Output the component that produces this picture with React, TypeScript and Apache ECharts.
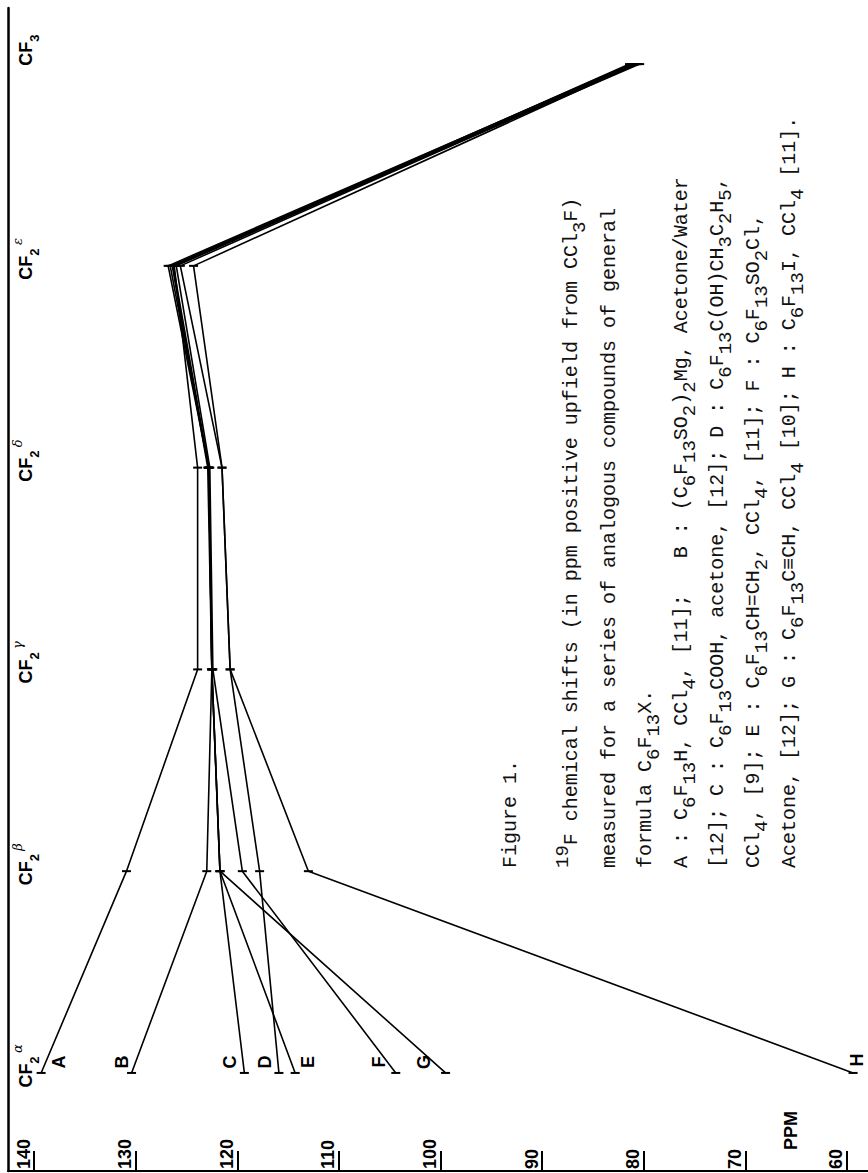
import React, { useEffect, useRef } from 'react';
import * as echarts from 'echarts';

// ---- data (ppm, positive upfield from CCl3F) ----
const categories = ['CF2 α', 'CF2 β', 'CF2 γ', 'CF2 δ', 'CF2 ε', 'CF3'];
const ppmTicks = [140, 130, 120, 110, 100, 90, 80, 70, 60];
const compoundNames = ['A', 'B', 'C', 'D', 'E', 'F', 'G', 'H'];

const valuesA = [139.3, 130.9, 123.9, 123.9, 126.2, 81.0];
const valuesB = [130.4, 123.0, 122.5, 122.8, 126.6, 80.6];
const valuesC = [119.3, 121.7, 122.5, 122.8, 126.8, 81.2];
const valuesD = [115.9, 117.8, 120.7, 121.5, 125.6, 80.8];
const valuesE = [114.3, 121.7, 122.5, 122.9, 126.4, 80.4];
const valuesF = [104.4, 119.5, 122.4, 122.7, 126.0, 80.9];
const valuesG = [99.5, 121.7, 122.5, 122.8, 126.3, 81.4];
const valuesH = [59.4, 113.0, 120.7, 121.5, 124.3, 80.7];
const allValues = [valuesA, valuesB, valuesC, valuesD, valuesE, valuesF, valuesG, valuesH];

// ---- layout / style (not data) ----
const W = 868;
const H = 1173;
const SANS = "'Liberation Sans', Arial, Helvetica, sans-serif";
const MONO = "'Liberation Mono', 'Courier New', monospace";

// screen offsets of the compound letters from their alpha point [dx, dy]
const letterScreenOffsets: number[][] = [
  [18, -11], [-9.5, -11], [-14.5, -11], [-13.5, -11],
  [13, -11], [-16.5, -11], [-21.5, -11], [4, -13],
];

const categoryRich = (idx: number) => {
  const name = categories[idx];
  if (name === 'CF3') return '{gap3| }{b|CF}{s|3}';
  const greek = name.split(' ')[1];
  return `{gap| }{b|CF}{s|2} {g|${greek}}`;
};

const captionLines: { x: number; text: string }[] = [
  { x: 510, text: 'Figure 1.' },
  { x: 571, text: '{sup|19}F chemical shifts (in ppm positive upfield from CCl{sub|3}F)' },
  { x: 609, text: 'measured for a series of analogous compounds of general' },
  { x: 645, text: 'formula C{sub|6}F{sub|13}X.' },
  { x: 681, text: 'A : C{sub|6}F{sub|13}H, CCl{sub|4}, [11];   B : (C{sub|6}F{sub|13}SO{sub|2}){sub|2}Mg, Acetone/Water' },
  { x: 717, text: '[12]; C : C{sub|6}F{sub|13}COOH, acetone, [12]; D : C{sub|6}F{sub|13}C(OH)CH{sub|3}C{sub|2}H{sub|5},' },
  { x: 753, text: 'CCl{sub|4}, [9]; E : C{sub|6}F{sub|13}CH=CH{sub|2}, CCl{sub|4}, [11]; F : C{sub|6}F{sub|13}SO{sub|2}Cl,' },
  { x: 789, text: 'Acetone, [12]; G : C{sub|6}F{sub|13}C\u2261CH, CCl{sub|4} [10]; H : C{sub|6}F{sub|13}I, CCl{sub|4} [11].' },
];

function buildOption() {
  const series = compoundNames.map((name, i) => {
    const [sx, sy] = letterScreenOffsets[i];
    const data = allValues[i].map((v, j) => {
      if (j === 0) {
        return {
          value: [v, j],
          label: {
            show: true,
            formatter: name,
            rotate: 90,
            position: 'inside',
            offset: [-sy, sx],
            fontSize: 18,
            fontWeight: 'bold',
            fontFamily: SANS,
            color: '#000',
          },
        };
      }
      return [v, j];
    });
    return {
      type: 'line',
      name,
      data,
      symbol: 'rect',
      symbolSize: [9, 2],
      showSymbol: true,
      showAllSymbol: true,
      lineStyle: { color: '#000', width: 1.6 },
      itemStyle: { color: '#000' },
      label: { show: false },
      silent: true,
      animation: false,
    };
  });

  return {
    animation: false,
    backgroundColor: '#fff',
    grid: { left: 8, right: 0, top: 8, bottom: 2, containLabel: false, outerBoundsMode: 'none' },
    xAxis: {
      type: 'value',
      inverse: true,
      min: 57.93,
      max: 142.56,
      axisLine: { show: true, onZero: false, lineStyle: { color: '#000', width: 2 } },
      axisTick: {
        show: true,
        inside: true,
        length: 20,
        customValues: ppmTicks,
        lineStyle: { color: '#000', width: 2 },
      },
      axisLabel: {
        show: true,
        inside: true,
        rotate: 90,
        customValues: ppmTicks,
        margin: 2,
        fontSize: 18,
        fontWeight: 'bold',
        fontFamily: SANS,
        color: '#000',
        verticalAlign: 'bottom',
        lineHeight: 21,
      },
      splitLine: { show: false },
    },
    yAxis: {
      type: 'value',
      min: -0.486,
      max: 5.278,
      axisLine: { show: true, onZero: false, lineStyle: { color: '#000', width: 2.5 } },
      axisTick: { show: false },
      splitLine: { show: false },
      axisLabel: {
        show: true,
        inside: true,
        rotate: 90,
        customValues: [0, 1, 2, 3, 4, 5],
        margin: 3,
        formatter: (v: number) => categoryRich(Math.round(v)),
        rich: {
          gap: { width: 14, fontSize: 13 },
          gap3: { width: 28, fontSize: 13 },
          b: { fontSize: 18, fontWeight: 'bold', fontFamily: SANS, color: '#000', lineHeight: 30, verticalAlign: 'middle' },
          s: { fontSize: 13, fontWeight: 'bold', fontFamily: SANS, color: '#000', lineHeight: 18, verticalAlign: 'bottom' },
          g: { fontSize: 13, fontWeight: 'normal', fontFamily: "'DejaVu Serif', serif", fontStyle: 'italic', color: '#000', lineHeight: 18, verticalAlign: 'top' },
        },
      },
    },
    graphic: [
      ...captionLines.map((ln) => ({
        type: 'text',
        x: ln.x,
        y: 868,
        rotation: Math.PI / 2,
        silent: true,
        style: {
          text: ln.text,
          fontFamily: MONO,
          fontSize: 20,
          lineHeight: 36,
          fill: '#111',
          textAlign: 'left',
          textVerticalAlign: 'middle',
          rich: {
            sub: { fontSize: 19, fontFamily: MONO, fill: '#111', lineHeight: 18, verticalAlign: 'bottom' },
            sup: { fontSize: 19, fontFamily: MONO, fill: '#111', lineHeight: 18, verticalAlign: 'top' },
          },
        },
      })),
      {
        type: 'text',
        x: 791,
        y: 1150,
        rotation: Math.PI / 2,
        silent: true,
        style: {
          text: 'PPM',
          fontFamily: SANS,
          fontSize: 18,
          fontWeight: 'bold',
          fill: '#000',
          textAlign: 'left',
          textVerticalAlign: 'middle',
        },
      },
    ],
    series,
  };
}

export default function App() {
  const ref = useRef<HTMLDivElement>(null);
  useEffect(() => {
    if (!ref.current) return;
    const chart = echarts.init(ref.current, null, { renderer: 'svg' });
    chart.setOption(buildOption() as any);
    return () => {
      chart.dispose();
    };
  }, []);
  return (
    <div
      ref={ref}
      style={{ position: 'absolute', left: 0, top: 0, width: W, height: H, background: '#fff' }}
    />
  );
}
